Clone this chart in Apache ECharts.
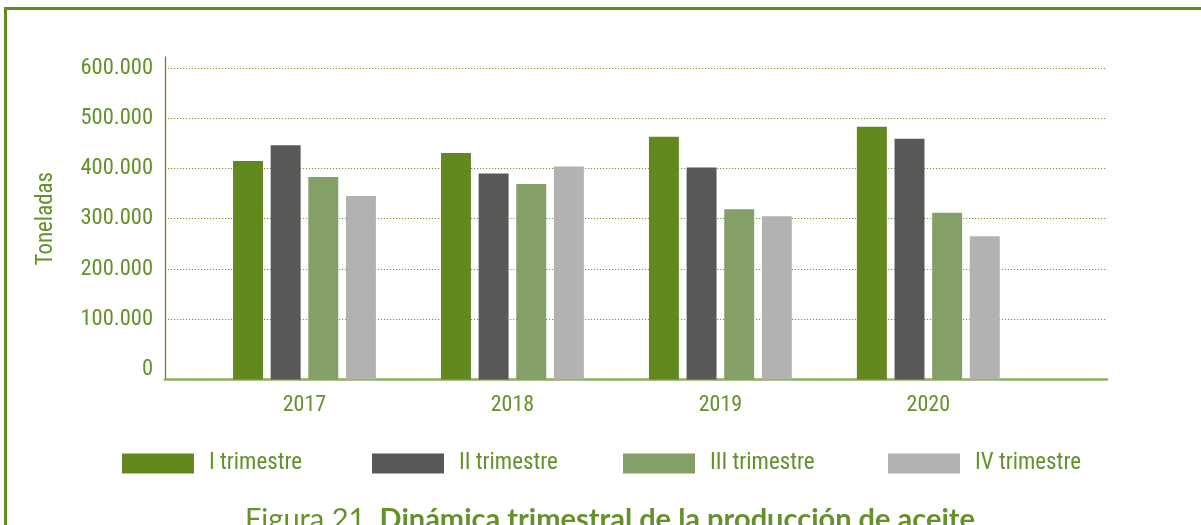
<!DOCTYPE html>
<html>
<head>
<meta charset="utf-8">
<script src="https://cdn.jsdelivr.net/npm/echarts@6/dist/echarts.min.js"></script>
<style>
	html, body { margin: 0; padding: 0; background: #fff; }
	#frame {
		position: absolute; left: 4px; top: 7px; right: 0; bottom: 0;
		border-left: 3px solid #628c22; border-top: 3px solid #628c22;
	}
	#chart { position: absolute; left: 0; top: 0; width: 1201px; height: 525px; }
</style>
</head>
<body>
<div id="frame"></div>
<div id="chart"></div>
<script>
// datos
const years = ['2017', '2018', '2019', '2020']
const quarters = ['I trimestre', 'II trimestre', 'III trimestre', 'IV trimestre']
const q1 = [415000, 431000, 463000, 483000]
const q2 = [446000, 390000, 402000, 459000]
const q3 = [383000, 369000, 319000, 312000]
const q4 = [345000, 404000, 305000, 265000]
const yMax = 600000
const yStep = 100000

const colors = ['#62891e', '#585856', '#84a067', '#b2b2b2']
const green = '#64912a'
const font = "'Roboto Condensed', 'Liberation Sans Narrow', 'DejaVu Sans Condensed', Roboto, sans-serif"

const fmt = (v) => String(v).replace(/\B(?=(\d{3})+(?!\d))/g, '.')

let myChart = echarts.init(document.getElementById('chart'))

// barras dibujadas desde el borde inferior del grid
const makeSeries = (name, values, idx) => ({
	name: name,
	type: 'custom',
	xAxisIndex: 2,
	yAxisIndex: 2,
	itemStyle: { color: colors[idx] },
	data: years.map((y, i) => [y, values[i]]),
	renderItem: (params, api) => {
		const top = api.coord([api.value(0), api.value(1)])
		const cs = params.coordSys
		const base = cs.y + cs.height
		const band = api.size([1, 0])[0]
		const w = band * 0.144
		const x = top[0] + (idx - 1.5) * band * 0.181 - w / 2
		return {
			type: 'rect',
			shape: { x: x, y: top[1], width: w, height: base - top[1] },
			style: api.style()
		}
	}
})

const legendLeft = [117, 367, 618, 883]

let option = {
	animation: false,
	backgroundColor: 'transparent',
	textStyle: { fontFamily: font },
	title: {
		left: 240,
		top: 500,
		text: '{a|Figura 21. }{b|Dinámica trimestral de la producción de aceite}',
		textStyle: {
			rich: {
				a: { fontFamily: 'Lato', fontSize: 29, fontWeight: 'normal', color: green },
				b: { fontFamily: 'Lato', fontSize: 29, fontWeight: 'bold', color: green }
			}
		}
	},
	legend: quarters.map((q, i) => ({
		data: [q],
		left: legendLeft[i],
		top: 447,
		itemWidth: 72,
		itemHeight: 20,
		icon: 'rect',
		selectedMode: false,
		textStyle: { color: green, fontSize: 23, fontFamily: font, padding: [0, 0, 0, 10] }
	})),
	grid: [
		// lineas de ejes
		{ left: 165, right: 94, top: 57, bottom: 145.6 },
		// etiquetas y lineas de division
		{ left: 165, right: 94, top: 68, bottom: 155.6 },
		// barras
		{ left: 200.5, right: 168.7, top: 68, bottom: 145.6 }
	],
	xAxis: [
		{
			gridIndex: 0, type: 'value', min: 0, max: 1,
			axisLine: { show: true, onZero: false, lineStyle: { color: '#8fae5e', width: 2.5 } },
			axisTick: { show: false }, axisLabel: { show: false }, splitLine: { show: false }
		},
		{ gridIndex: 1, type: 'value', show: false },
		{
			gridIndex: 2, type: 'category', data: years,
			axisLine: { show: false }, axisTick: { show: false },
			axisLabel: { color: green, fontSize: 22, margin: 15, fontFamily: font }
		}
	],
	yAxis: [
		{
			gridIndex: 0, type: 'value', min: 0, max: 1,
			axisLine: { show: true, onZero: false, lineStyle: { color: '#5f8a1e', width: 1.3 } },
			axisTick: { show: false }, axisLabel: { show: false }, splitLine: { show: false }
		},
		{
			gridIndex: 1, type: 'value', min: 0, max: yMax, interval: yStep,
			name: 'Toneladas', nameLocation: 'middle', nameGap: 107,
			nameTextStyle: { color: green, fontSize: 23, fontFamily: font },
			axisLine: { show: false }, axisTick: { show: false },
			axisLabel: { color: green, fontSize: 22.5, margin: 12, fontFamily: font, formatter: fmt },
			splitLine: {
				show: true, showMinLine: false,
				lineStyle: { color: '#6e9a34', width: 1, type: [1.2, 1.8] }
			}
		},
		{ gridIndex: 2, type: 'value', min: -20000, max: yMax, show: false }
	],
	series: [
		makeSeries(quarters[0], q1, 0),
		makeSeries(quarters[1], q2, 1),
		makeSeries(quarters[2], q3, 2),
		makeSeries(quarters[3], q4, 3)
	]
}
myChart.setOption(option)
</script>
</body>
</html>
